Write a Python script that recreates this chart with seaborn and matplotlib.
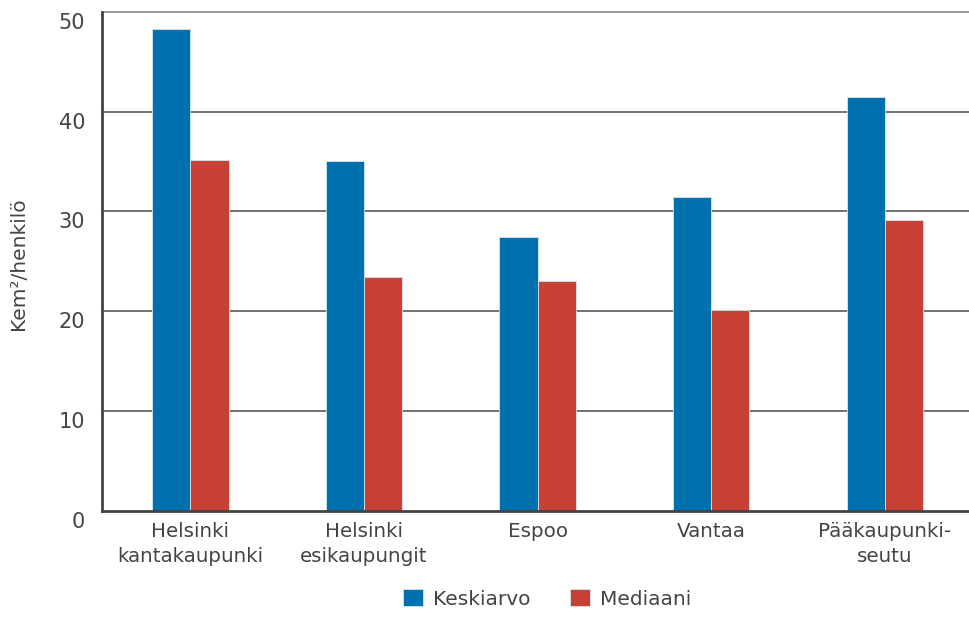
import pandas as pd
import numpy as np
import matplotlib
matplotlib.use('Agg')
import matplotlib.pyplot as plt
import matplotlib.transforms as mtransforms
import seaborn as sns

# data
areas = ['Helsinki\nkantakaupunki', 'Helsinki\nesikaupungit', 'Espoo', 'Vantaa', 'Pääkaupunki-\nseutu']
keskiarvo = [48.3, 35.0, 27.4, 31.4, 41.5]
mediaani = [35.1, 23.4, 23.0, 20.1, 29.1]
series = ['Keskiarvo', 'Mediaani']
yticks = [0, 10, 20, 30, 40, 50]

df = pd.DataFrame({'Alue': areas * 2,
                   'Sarja': [series[0]] * len(areas) + [series[1]] * len(areas),
                   'Arvo': keskiarvo + mediaani})

sns.set_theme(style='white')
plt.rcParams['font.family'] = ['DejaVu Sans']
txt = '#444444'

fig = plt.figure(figsize=(9.7, 6.17), dpi=100)
ax = fig.add_axes([0.105, 0.172, 0.895, 0.809])

pal = {'Keskiarvo': '#0070ae', 'Mediaani': '#c84135'}
sns.barplot(data=df, x='Alue', y='Arvo', hue='Sarja', palette=pal, order=areas,
            hue_order=series, width=0.44, saturation=1, edgecolor='#d8e6f0',
            linewidth=0.6, ax=ax, zorder=3)

ax.set_xlim(-0.51, 4.49)
ax.set_ylim(0, 50)
ax.set_yticks(yticks)
ax.set_yticklabels([str(t) for t in yticks])
# grid lines at the ticks (top one lighter)
for t in yticks[1:-1]:
    ax.axhline(t, color='#4a4a4a', lw=1.1, zorder=1)
ax.axhline(50, color='#8a8a8a', lw=1.2, zorder=1, clip_on=False)

for s in ['top', 'right']:
    ax.spines[s].set_visible(False)
for s in ['left', 'bottom']:
    ax.spines[s].set_color('#444444')
    ax.spines[s].set_linewidth(2)
    ax.spines[s].set_zorder(4)

ax.tick_params(axis='y', length=0, pad=12, labelsize=15, labelcolor=txt)
ax.tick_params(axis='x', length=0, pad=8, labelsize=14.3, labelcolor=txt)
# labels sit a bit below their grid lines in the original
off = mtransforms.ScaledTranslation(0, -9 / 100, fig.dpi_scale_trans)
for lab in ax.get_yticklabels():
    lab.set_transform(lab.get_transform() + off)
for lab in ax.get_xticklabels():
    lab.set_linespacing(1.4)

ax.set_xlabel('')
ax.set_ylabel('Kem²/henkilö', fontsize=14.5, color=txt, labelpad=0)
ax.yaxis.set_label_coords(-0.085, 0.495)

ax.legend(ncol=2, loc='upper center', bbox_to_anchor=(0.513, -0.12), frameon=False,
          fontsize=14.5, labelcolor=txt, handlelength=0.95, handleheight=0.95,
          handletextpad=0.5, columnspacing=2.0)

plt.savefig('out.png', dpi=100, facecolor='white')
